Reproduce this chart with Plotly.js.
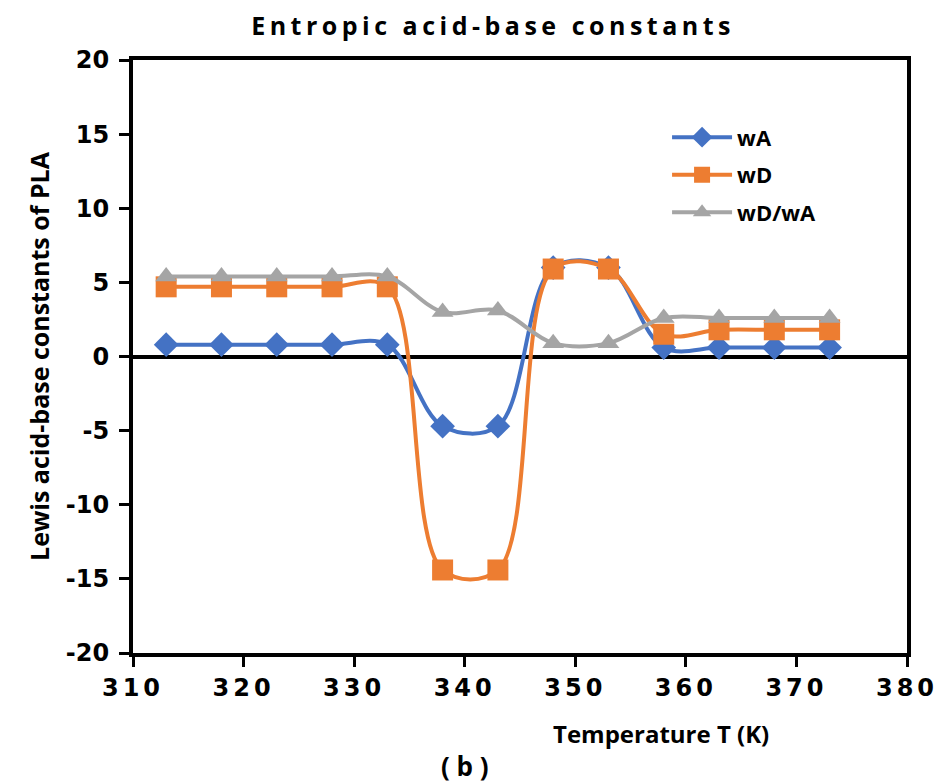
<!DOCTYPE html>
<html>
<head>
<meta charset="utf-8">
<script src="https://cdn.plot.ly/plotly-3.0.1.min.js"></script>
<style>
html,body{margin:0;padding:0;background:#fff;}
#chart{width:941px;height:783px;}
.gtitle{letter-spacing:4.5px;}
.xtick text{letter-spacing:4px;}
.annotation-text-g text.b-label{letter-spacing:3px;}
</style>
</head>
<body>
<div id="chart"></div>
<script>
// Temperature T (K)
const temperature = [313, 318, 323, 328, 333, 338, 343, 348, 353, 358, 363, 368, 373];
// Series
const wA   = [0.8, 0.8, 0.8, 0.8, 0.8, -4.7, -4.7, 6.0, 6.0, 0.6, 0.6, 0.6, 0.6];
const wD   = [4.7, 4.7, 4.7, 4.7, 4.7, -14.4, -14.4, 5.9, 5.9, 1.5, 1.8, 1.8, 1.8];
const wDwA = [5.4, 5.4, 5.4, 5.4, 5.4, 3.0, 3.1, 0.9, 0.9, 2.6, 2.6, 2.6, 2.6];
const xTicks = [310, 320, 330, 340, 350, 360, 370, 380];
const yTicks = [-20, -15, -10, -5, 0, 5, 10, 15, 20];

const FONT = "'Open Sans', 'DejaVu Sans', sans-serif";
const DV = "'DejaVu Sans', sans-serif";
const lineW = 4;

const traces = [
  {x: temperature, y: wA, name: 'wA', legendgroup: 'a', type: 'scatter', mode: 'lines+markers',
   line: {color: '#4472C4', width: lineW, shape: 'spline', smoothing: 1},
   marker: {symbol: 'diamond', size: 19, color: '#4472C4'}},
  {x: temperature, y: wD, name: 'wD', legendgroup: 'b', type: 'scatter', mode: 'lines+markers',
   line: {color: '#ED7D31', width: lineW, shape: 'spline', smoothing: 1},
   marker: {symbol: 'square', size: 21, color: '#ED7D31'}},
  {x: temperature, y: wDwA, name: 'wD/wA', legendgroup: 'c', type: 'scatter', mode: 'lines+markers',
   line: {color: '#A5A5A5', width: lineW, shape: 'spline', smoothing: 1},
   marker: {symbol: 'triangle-up', size: 19, color: '#A5A5A5'}}
];

const layout = {
  width: 941, height: 783,
  margin: {l: 133, r: 34, t: 60, b: 130},
  paper_bgcolor: '#fff', plot_bgcolor: '#fff',
  showlegend: true,
  title: {text: 'Entropic acid-base constants', x: 0.524, xanchor: 'center', y: 0.966, yanchor: 'middle',
          font: {family: FONT, size: 25, color: '#000', weight: 'bold'}},
  font: {family: FONT, color: '#000'},
  xaxis: {
    range: [310, 380], tickvals: xTicks, ticktext: xTicks.map(String),
    showgrid: false, zeroline: false,
    showline: true, linecolor: '#000', linewidth: 4, mirror: true,
    ticks: 'outside', ticklen: 10, tickwidth: 3, tickcolor: '#000',
    tickfont: {family: DV, size: 24, color: '#000', weight: 'bold'},
    fixedrange: true
  },
  yaxis: {
    range: [-20, 20], tickvals: yTicks, ticktext: yTicks.map(String),
    showgrid: false, zeroline: true, zerolinecolor: '#000', zerolinewidth: 4,
    showline: true, linecolor: '#000', linewidth: 4, mirror: true,
    ticks: 'outside', ticklen: 10, tickwidth: 3, tickcolor: '#000',
    ticklabelstandoff: 5,
    tickfont: {family: DV, size: 24, color: '#000', weight: 'bold'},
    title: {text: 'Lewis acid-base constants of PLA', standoff: 10,
            font: {family: FONT, size: 25, color: '#000', weight: 'bold'}},
    fixedrange: true
  },
  legend: {
    x: 0.69, y: 0.905, xanchor: 'left', yanchor: 'top',
    bgcolor: 'rgba(0,0,0,0)', borderwidth: 0,
    font: {family: FONT, size: 22, color: '#000', weight: 'bold'},
    itemwidth: 60, tracegroupgap: 6
  },
  annotations: [
    {text: 'Temperature T (K)', xref: 'paper', yref: 'paper', x: 0.682, y: -0.136,
     xanchor: 'center', yanchor: 'middle', showarrow: false,
     font: {family: FONT, size: 24, color: '#000', weight: 'bold'}},
    {text: '( b )', xref: 'paper', yref: 'paper', x: 0.429, y: -0.19,
     xanchor: 'center', yanchor: 'middle', showarrow: false,
     font: {family: FONT, size: 26, color: '#000', weight: 'bold'}}
  ]
};

Plotly.newPlot('chart', traces, layout, {displayModeBar: false, staticPlot: true});
</script>
</body>
</html>
